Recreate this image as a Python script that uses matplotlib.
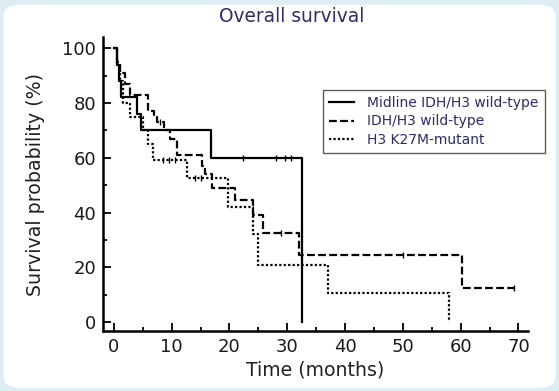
import matplotlib
matplotlib.use("Agg")
import matplotlib.pyplot as plt
from matplotlib.patches import FancyBboxPatch
from matplotlib.ticker import MultipleLocator

plt.rcParams['font.family'] = ['DejaVu Sans']

## step curves (months, survival %)
midline_t = [0, 0.5, 0.9, 1.2, 4.0, 4.7, 16.8, 32.6]
midline_s = [100, 94, 88, 82, 76, 70, 60, 0]
midline_cens_t = [22.4, 28.1, 29.6, 30.7]
midline_cens_s = [60, 60, 60, 60]

wt_t = [0, 0.5, 1.0, 1.9, 2.8, 5.9, 7.0, 7.4, 8.6, 9.7, 10.9, 15.3, 15.8, 17.0,
        21.0, 24.0, 25.8, 32.0, 60.3, 69.2]
wt_s = [100, 95, 91, 87, 83, 77, 75, 73, 70, 67, 61, 57, 54, 49,
        44.5, 39, 32.5, 24.5, 12.4, 12.4]
wt_cens_t = [8.0, 29.0, 50.0, 69.2]
wt_cens_s = [73, 32.5, 24.5, 12.4]

h3_t = [0, 0.5, 1.0, 1.6, 2.8, 5.0, 5.9, 6.8, 12.6, 19.7, 24.0, 25.0, 37.0, 58.0]
h3_s = [100, 94, 88, 80, 75, 70, 65, 59, 52.5, 42, 32, 21, 10.6, 0]
h3_cens_t = [8.5, 9.5, 10.5, 14.0, 15.0]
h3_cens_s = [59, 59, 59, 52.5, 52.5]

labels = ["Midline IDH/H3 wild-type", "IDH/H3 wild-type", "H3 K27M-mutant"]

fig = plt.figure(figsize=(5.59, 3.91), dpi=100)
fig.patch.set_facecolor('#dcedf3')
bg = FancyBboxPatch((0.006, 0.008), 0.988, 0.98, boxstyle="round,pad=0,rounding_size=0.03",
                    transform=fig.transFigure, facecolor='white', edgecolor='none', zorder=-10)
fig.patches.append(bg)

ax = fig.add_axes([0.184, 0.153, 0.761, 0.752])
ax.set_facecolor('none')

ax.step(midline_t, midline_s, where='post', color='black', lw=1.6, label=labels[0])
ax.step(wt_t, wt_s, where='post', color='black', lw=1.6, dashes=(3.5, 1.5), label=labels[1])
ax.step(h3_t, h3_s, where='post', color='black', lw=1.6, dashes=(1, 1), label=labels[2])

ax.plot(midline_cens_t, midline_cens_s, '|', color='black', ms=5, mew=1)
ax.plot(wt_cens_t, wt_cens_s, '|', color='black', ms=5, mew=1)
ax.plot(h3_cens_t, h3_cens_s, '|', color='black', ms=5, mew=1)

ax.set_xlim(-1.9, 71.7)
ax.set_ylim(-3.3, 104)
ax.xaxis.set_major_locator(MultipleLocator(10))
ax.xaxis.set_minor_locator(MultipleLocator(5))
ax.yaxis.set_major_locator(MultipleLocator(20))
ax.yaxis.set_minor_locator(MultipleLocator(10))
ax.tick_params(which='major', direction='in', length=6, width=1.3, labelsize=13, pad=5,
               labelcolor='#1a1a1a')
ax.tick_params(which='minor', direction='in', length=3, width=1.3)
for s in ['top', 'right']:
    ax.spines[s].set_visible(False)
for s in ['left', 'bottom']:
    ax.spines[s].set_linewidth(1.8)

ax.set_xlabel("Time (months)", fontsize=13.6, color='#222222', labelpad=3)
ax.set_ylabel("Survival probability (%)", fontsize=13.7, color='#222222', labelpad=12)
fig.text(0.521, 0.958, "Overall survival", ha='center', va='center', fontsize=13.4, color='#2b2d6a')

leg = ax.legend(loc='upper left', bbox_to_anchor=(0.518, 0.82), fontsize=10, frameon=True,
                fancybox=False, edgecolor='#333333', handlelength=1.8, handletextpad=0.9,
                borderpad=0.45, labelspacing=0.3, borderaxespad=0)
leg.get_frame().set_linewidth(1.0)
for t in leg.get_texts():
    t.set_color('#2b2d6a')

fig.savefig("out.png", dpi=100)
